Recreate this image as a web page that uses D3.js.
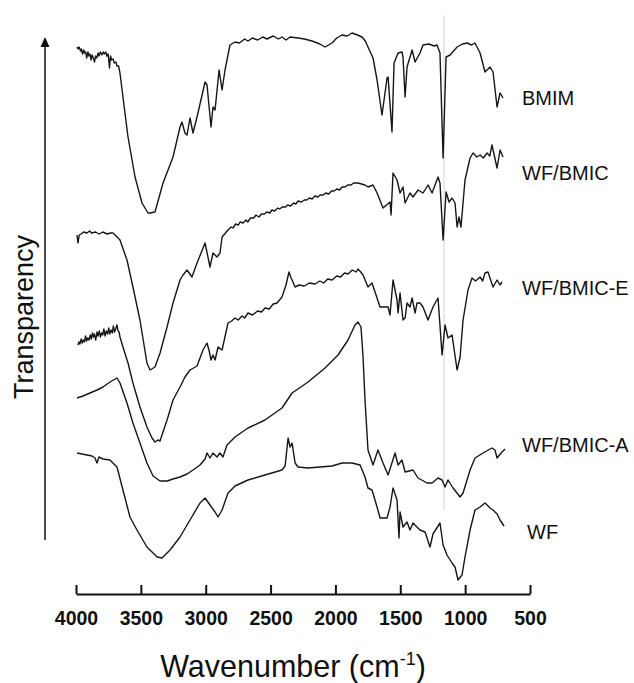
<!DOCTYPE html>
<html>
<head>
<meta charset="utf-8">
<script src="https://cdn.jsdelivr.net/npm/d3@7"></script>
<style>
  body { margin: 0; background: #fff; }
  svg { display: block; font-family: "Liberation Sans", Arial, Helvetica, sans-serif; }
</style>
</head>
<body>
<svg id="chart"></svg>
<script>
// FTIR spectra, [wavenumber (cm-1), offset transparency (a.u.)]
const bmim = [
  [3992, 533], [3984, 531], [3976, 533], [3965, 529], [3958, 531], [3950, 526], [3940, 530],
  [3934, 527], [3925, 528], [3918, 522], [3908, 528], [3900, 524], [3892, 526], [3884, 520],
  [3876, 525], [3866, 522], [3857, 518], [3849, 524], [3840, 522], [3830, 527], [3822, 524],
  [3812, 528], [3800, 525], [3790, 528], [3782, 526], [3770, 528], [3762, 524], [3752, 526],
  [3742, 512], [3734, 524], [3725, 520], [3714, 521], [3705, 517], [3692, 518], [3684, 514],
  [3672, 514], [3661, 507], [3638, 483], [3599, 443], [3545, 403], [3491, 377],
  [3445, 367], [3429, 367], [3391, 368], [3329, 397], [3252, 423], [3198, 453], [3183, 458],
  [3160, 447], [3144, 445], [3121, 462], [3098, 447], [3067, 463], [3005, 498], [2990, 495],
  [2959, 453], [2944, 473], [2928, 470], [2897, 510], [2874, 490], [2851, 510], [2813, 535],
  [2774, 538], [2740, 537], [2700, 541], [2674, 539], [2640, 542], [2600, 540], [2560, 543],
  [2527, 541], [2480, 544], [2440, 541], [2412, 543], [2380, 540], [2350, 543], [2288, 542],
  [2240, 541], [2180, 539], [2120, 536], [2080, 533], [2026, 537], [1990, 542], [1949, 545],
  [1910, 544], [1872, 547], [1830, 545], [1795, 543], [1770, 539], [1749, 533],
  [1710, 522], [1679, 500], [1641, 465], [1602, 502], [1594, 503], [1564, 448], [1548, 517],
  [1517, 527], [1487, 528], [1479, 523], [1463, 483], [1448, 513], [1409, 530], [1386, 518],
  [1348, 527], [1325, 535], [1280, 536], [1240, 534], [1217, 535], [1194, 527], [1170, 422],
  [1147, 523], [1116, 525], [1062, 533], [1020, 536], [985, 537], [950, 535], [924, 537],
  [885, 527], [847, 508], [808, 513], [785, 508], [754, 473], [731, 487], [708, 482]
];

const wfBmic = [
  [3992, 345], [3985, 337], [3975, 345], [3960, 346], [3940, 348], [3915, 347], [3895, 349],
  [3880, 347], [3850, 348], [3820, 346], [3792, 348], [3760, 346], [3735, 347], [3715, 347],
  [3690, 344], [3661, 340], [3607, 320], [3561, 293], [3507, 260], [3453, 217],
  [3429, 210], [3391, 213], [3352, 227], [3298, 253], [3252, 277], [3198, 300], [3175, 305],
  [3144, 310], [3106, 303], [3067, 317], [3005, 337], [2967, 313], [2944, 327], [2913, 323],
  [2890, 327], [2874, 343], [2828, 350], [2805, 353], [2790, 352], [2770, 356], [2748, 355],
  [2735, 358], [2712, 357], [2690, 360], [2676, 358], [2655, 362], [2630, 362], [2612, 365],
  [2590, 363], [2570, 366], [2548, 366], [2530, 368], [2505, 367], [2490, 370], [2468, 369],
  [2445, 372], [2430, 371], [2410, 373], [2385, 373], [2368, 375], [2345, 374], [2322, 377],
  [2305, 376], [2288, 379], [2262, 378], [2240, 380], [2222, 380], [2200, 382], [2180, 381],
  [2158, 384], [2136, 383], [2118, 385], [2095, 385], [2075, 387], [2052, 386], [2030, 389],
  [2010, 389], [1990, 391], [1968, 390], [1948, 393], [1925, 393], [1905, 395], [1880, 395],
  [1860, 397], [1840, 397], [1826, 397], [1772, 395], [1749, 393], [1710, 395],
  [1679, 387], [1633, 372], [1579, 378], [1571, 365], [1556, 407], [1525, 400], [1502, 387],
  [1479, 393], [1463, 377], [1425, 387], [1402, 383], [1363, 390], [1325, 387], [1286, 395],
  [1255, 387], [1209, 403], [1194, 397], [1170, 340], [1147, 388], [1124, 378], [1101, 382],
  [1078, 377], [1062, 353], [1047, 363], [1032, 353], [1001, 400], [962, 422], [939, 427],
  [910, 423], [885, 425], [860, 422], [831, 427], [810, 424], [793, 435], [754, 412],
  [731, 430], [708, 423]
];

const wfBmicE = [
  [3985, 235], [3977, 238], [3970, 236], [3960, 241], [3952, 237], [3944, 240], [3935, 238],
  [3926, 244], [3918, 239], [3910, 242], [3900, 240], [3890, 245], [3882, 241], [3873, 247],
  [3866, 243], [3858, 246], [3848, 240], [3838, 248], [3830, 244], [3820, 249], [3812, 243],
  [3803, 247], [3794, 245], [3785, 251], [3776, 244], [3767, 249], [3757, 246], [3748, 252],
  [3740, 246], [3730, 250], [3720, 247], [3712, 254], [3703, 248], [3694, 251], [3684, 255],
  [3676, 249], [3668, 248], [3661, 243], [3638, 233], [3599, 217], [3561, 197],
  [3507, 173], [3453, 153], [3414, 142], [3391, 138], [3368, 140], [3352, 139], [3337, 145],
  [3298, 160], [3252, 180], [3198, 193], [3160, 203], [3121, 210], [3067, 214], [3021, 230],
  [2990, 237], [2975, 230], [2959, 220], [2944, 225], [2928, 220], [2905, 233], [2874, 230],
  [2828, 257], [2800, 259], [2774, 262], [2750, 260], [2720, 264], [2700, 262], [2674, 267],
  [2640, 265], [2600, 269], [2570, 268], [2543, 272], [2510, 271], [2480, 276], [2450, 277],
  [2412, 283], [2381, 295], [2358, 308], [2342, 302], [2334, 300], [2311, 293], [2280, 295],
  [2240, 294], [2200, 297], [2157, 296], [2120, 299], [2090, 297], [2060, 301], [2026, 300],
  [1990, 304], [1960, 303], [1930, 307], [1903, 306], [1870, 310], [1840, 308], [1826, 311],
  [1805, 308], [1787, 305],
  [1749, 293], [1718, 297], [1656, 273], [1594, 273], [1579, 265], [1556, 300], [1525, 280],
  [1517, 267], [1502, 287], [1479, 260], [1463, 262], [1448, 277], [1425, 273], [1409, 282],
  [1386, 267], [1371, 277], [1348, 277], [1325, 273], [1286, 260], [1248, 273], [1209, 282],
  [1178, 225], [1155, 255], [1132, 242], [1101, 245], [1062, 210], [1039, 223], [1016, 260],
  [978, 290], [947, 302], [920, 299], [885, 303], [865, 299], [847, 307], [824, 308],
  [785, 293], [754, 300], [731, 295], [716, 298]
];

const wfBmicA = [
  [3992, 182], [3946, 184], [3892, 187], [3838, 190], [3792, 193], [3738, 198], [3684, 202],
  [3661, 197], [3607, 177], [3561, 157], [3507, 137], [3453, 117], [3406, 104], [3352, 99],
  [3298, 99], [3252, 101], [3198, 103], [3144, 106], [3098, 110], [3044, 115], [3005, 121],
  [2990, 127], [2967, 122], [2944, 127], [2913, 123], [2890, 127], [2867, 123], [2836, 135],
  [2774, 143], [2674, 152], [2543, 160], [2412, 172], [2334, 187], [2211, 198], [2080, 212],
  [1980, 225], [1903, 240], [1849, 255], [1826, 258], [1803, 253], [1787, 223], [1772, 180],
  [1749, 130], [1710, 115], [1672, 130], [1633, 117], [1594, 105], [1540, 127], [1517, 115],
  [1487, 120], [1463, 108], [1402, 110], [1363, 102], [1294, 97], [1255, 97], [1209, 102],
  [1178, 100], [1155, 93], [1132, 100], [1093, 92], [1039, 83], [1016, 87], [962, 110],
  [924, 122], [862, 127], [793, 132], [770, 130], [754, 122], [716, 128], [692, 131]
];

const wf = [
  [3992, 127], [3954, 126], [3915, 125], [3877, 124], [3854, 122], [3838, 117], [3823, 123],
  [3792, 121], [3738, 120], [3684, 113], [3638, 90], [3584, 63], [3530, 50], [3453, 33],
  [3375, 23], [3337, 22], [3275, 30], [3198, 43], [3121, 60], [3044, 77], [3005, 82],
  [2967, 75], [2928, 68], [2905, 63], [2874, 70], [2828, 87], [2774, 94], [2674, 100],
  [2543, 105], [2412, 110], [2388, 114], [2365, 142], [2350, 133], [2334, 137], [2311, 117],
  [2288, 113], [2211, 112], [2026, 114], [1949, 117], [1872, 117], [1810, 115], [1772, 103],
  [1749, 92], [1718, 90], [1679, 73], [1656, 62], [1602, 62], [1579, 73], [1556, 92],
  [1525, 80], [1510, 42], [1502, 68], [1479, 53], [1448, 58], [1425, 50], [1402, 57],
  [1348, 50], [1309, 48], [1271, 33], [1248, 46], [1194, 57], [1170, 35], [1140, 25],
  [1101, 17], [1078, 13], [1055, 0], [1024, 5], [1001, 23], [962, 50], [924, 70],
  [885, 73], [847, 77], [808, 72], [785, 70], [754, 66], [731, 60], [700, 54]
];

const seriesNames = ["BMIM", "WF/BMIC", "WF/BMIC-E", "WF/BMIC-A", "WF"];
const seriesData = [bmim, wfBmic, wfBmicE, wfBmicA, wf];
// where each name sits, in the same units as the spectra
const labelLevels = [482, 407, 292, 135, 48];

const xTicks = [4000, 3500, 3000, 2500, 2000, 1500, 1000, 500];
const markerWavenumber = 1163;
const markerSpan = [70, 565];

const width = 634, height = 683;

const svg = d3.select("#chart")
  .attr("width", width)
  .attr("height", height);

const x = d3.scaleLinear().domain([4000, 500]).range([76, 530]);
const y = d3.scaleLinear().domain([0, 560]).range([580, 20]);

// thin grey guide line at ~1160 cm-1
svg.append("line")
  .attr("x1", x(markerWavenumber)).attr("x2", x(markerWavenumber))
  .attr("y1", y(markerSpan[1])).attr("y2", y(markerSpan[0]))
  .attr("stroke", "#d4d4d4")
  .attr("stroke-width", 1);

const line = d3.line()
  .x(d => x(d[0]))
  .y(d => y(d[1]));

svg.append("g")
  .selectAll("path")
  .data(seriesData)
  .enter().append("path")
  .attr("d", line)
  .attr("fill", "none")
  .attr("stroke", "#161616")
  .attr("stroke-width", 1.4)
  .attr("stroke-linejoin", "round");

svg.append("g")
  .selectAll("text")
  .data(seriesNames)
  .enter().append("text")
  .attr("x", (d, i) => i == 4 ? 527 : 522)
  .attr("y", (d, i) => y(labelLevels[i]))
  .attr("dy", "0.35em")
  .attr("font-size", 20)
  .attr("fill", "#111")
  .text(d => d);

// x axis, ticks pointing up into the plot
const xAxis = d3.axisBottom(x)
  .tickValues(xTicks)
  .tickFormat(d3.format("d"))
  .tickSizeInner(-9)
  .tickSizeOuter(0)
  .tickPadding(17.5);

const gx = svg.append("g")
  .attr("transform", "translate(0,594)")
  .call(xAxis);
gx.select(".domain").attr("stroke", "#111").attr("stroke-width", 2);
gx.selectAll(".tick line").attr("stroke", "#111").attr("stroke-width", 2);
gx.selectAll(".tick text")
  .attr("font-size", 19.5)
  .attr("font-weight", "bold")
  .attr("fill", "#111")
  .attr("font-family", "'Liberation Sans', Arial, sans-serif");

const xTitle = svg.append("text")
  .attr("x", 293)
  .attr("y", 677)
  .attr("text-anchor", "middle")
  .attr("font-size", 30.5)
  .attr("fill", "#111");
xTitle.append("tspan").text("Wavenumber (cm");
xTitle.append("tspan").attr("font-size", 18).attr("dy", -12).text("-1");
xTitle.append("tspan").attr("dy", 12).text(")");

// y axis: bare arrow and label
svg.append("line")
  .attr("x1", 45).attr("x2", 45)
  .attr("y1", 540).attr("y2", 46)
  .attr("stroke", "#111")
  .attr("stroke-width", 1.5);
svg.append("path")
  .attr("d", "M45,37 L40.5,47 L49.5,47 Z")
  .attr("fill", "#111");

svg.append("text")
  .attr("transform", "translate(33,317) rotate(-90)")
  .attr("text-anchor", "middle")
  .attr("font-size", 27)
  .attr("fill", "#111")
  .text("Transparency");
</script>
</body>
</html>
